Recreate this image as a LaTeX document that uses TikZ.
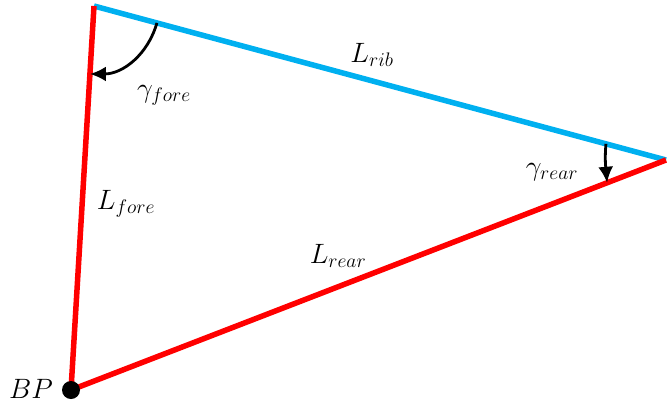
\documentclass[tikz,border=0pt]{standalone}
\usepackage{fix-cm}
\usepackage{amsmath}
\usepackage{tikz}
\usetikzlibrary{calc,arrows.meta}
\usetikzlibrary{positioning}
\definecolor{rib-blue}{HTML}{00B0F0}
\definecolor{side-red}{HTML}{FF0000}
\tikzset{angle arrow/.style={-{Latex[length=16pt,width=15pt]}, line width=2.8pt}}

\begin{document}
\begin{tikzpicture}[x=1pt, y=-1pt, font=\fontsize{28}{32}\selectfont]
        \useasboundingbox (0,0) rectangle (667,407);
        \coordinate (tip) at (94,6);
        \coordinate (aft) at (666,160);
        \coordinate (bp) at (71,390);
        \draw[rib-blue, line width=5.5pt] (tip) -- (aft);
        \draw[side-red, line width=5.5pt] (tip) -- (bp) -- (aft);
        \fill[black] (bp) circle (9pt);
        \node (bp-label) at (31,389) {$BP$};
        \coordinate (fore-a) at ($(tip)!0.11!(aft)$);
        \coordinate (fore-b) at ($(tip)!0.177!(bp)$);
        \draw[angle arrow] (fore-a) to[out=-106, in=0] (fore-b);
        \coordinate (rear-a) at ($(aft)!0.105!(tip)$);
        \coordinate (rear-b) at ($(aft)!0.099!(bp)$);
        \draw[angle arrow] (rear-a) to[out=-95, in=95] (rear-b);
        \node (rib) at (372,55) {$L_{rib}$};
        \node (gamma-fore) at (164,95) {$\gamma_{fore}$};
        \node (fore) at (126,204) {$L_{fore}$};
        \node (gamma-rear) at (552,172) {$\gamma_{rear}$};
        \node (rear) at (338,256) {$L_{rear}$};
    \end{tikzpicture}
\end{document}
